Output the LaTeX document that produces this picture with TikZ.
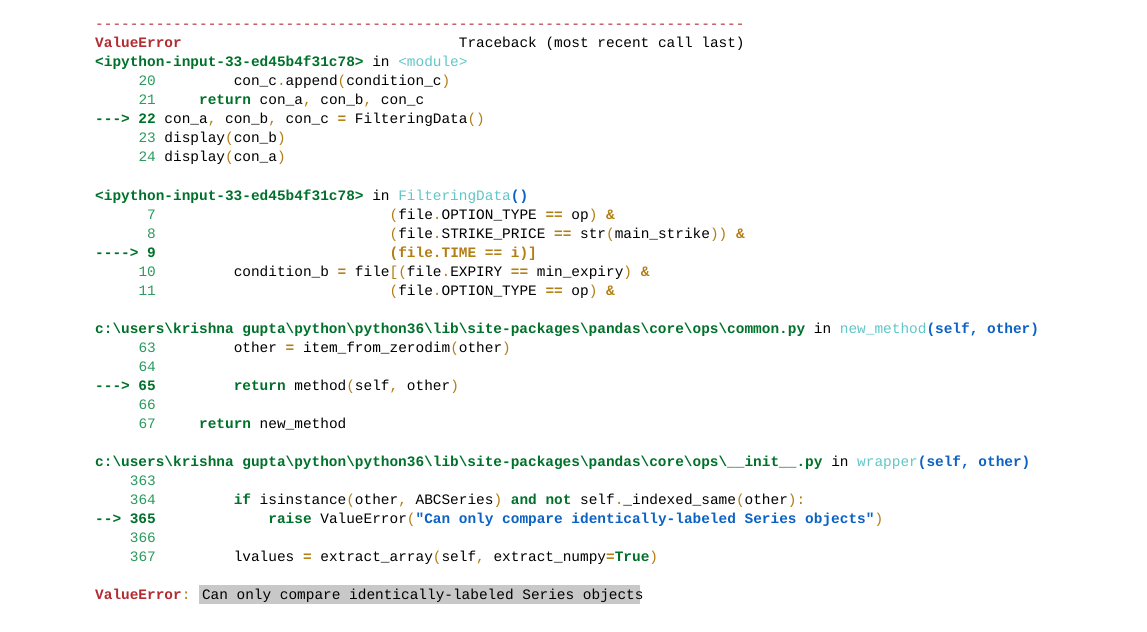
\documentclass[tikz,border=0pt]{standalone}
\usepackage{fontspec}
\newfontfamily\cf{Liberation Mono}
\definecolor{rdc}{HTML}{B22B31}
\definecolor{kgc}{HTML}{00712A}
\definecolor{nmc}{HTML}{2A9A5E}
\definecolor{cyc}{HTML}{60C6C8}
\definecolor{bbc}{HTML}{0B62C4}
\definecolor{occ}{HTML}{B27D12}
\definecolor{hlc}{HTML}{C8C8C8}
\newcommand\oc[1]{\textcolor{occ}{#1}}
\newcommand\ob[1]{\textcolor{occ}{\bfseries #1}}
\newcommand\kg[1]{\textcolor{kgc}{\bfseries #1}}
\newcommand\nm[1]{\textcolor{nmc}{#1}}
\newcommand\cy[1]{\textcolor{cyc}{#1}}
\newcommand\bb[1]{\textcolor{bbc}{\bfseries #1}}
\newcommand\rd[1]{\textcolor{rdc}{\bfseries #1}}
\newcommand\bs{\textbackslash}
\tikzset{ln/.style={anchor=base west,inner sep=0pt,font=\cf\fontsize{14.43pt}{19pt}\selectfont}}
\newcommand\Ln[4]{\node[ln] (#1) at ({95+8.66*#3},{-(29+19*#2)}) {#4};}
\begin{document}
\begin{tikzpicture}[x=1pt,y=1pt]
\useasboundingbox (0,0) rectangle (1147,-631);
\fill[hlc] (199,-585) rectangle (640,-604);
\Ln{dash}{0}{0}{\textcolor{rdc}{---------------------------------------------------------------------------}}
\Ln{ve}{1}{0}{\rd{ValueError}}
\Ln{tb}{1}{42}{Traceback (most recent call last)}
\Ln{f1}{2}{0}{\kg{<ipython-input-33-ed45b4f31c78>} in \cy{<module>}}
\Ln{n20}{3}{5}{\nm{20}}
\Ln{c20}{3}{16}{con\_c\oc{.}append\oc{(}condition\_c\oc{)}}
\Ln{n21}{4}{5}{\nm{21}}
\Ln{c21}{4}{12}{\kg{return} con\_a\oc{,} con\_b\oc{,} con\_c}
\Ln{n22}{5}{0}{\kg{---> 22}}
\Ln{c22}{5}{8}{con\_a\oc{,} con\_b\oc{,} con\_c \ob{=} FilteringData\oc{()}}
\Ln{n23}{6}{5}{\nm{23}}
\Ln{c23}{6}{8}{display\oc{(}con\_b\oc{)}}
\Ln{n24}{7}{5}{\nm{24}}
\Ln{c24}{7}{8}{display\oc{(}con\_a\oc{)}}
\Ln{f2}{9}{0}{\kg{<ipython-input-33-ed45b4f31c78>} in \cy{FilteringData}\bb{()}}
\Ln{n7}{10}{6}{\nm{7}}
\Ln{c7}{10}{34}{\oc{(}file\oc{.}OPTION\_TYPE \ob{==} op\oc{)} \ob{\&}}
\Ln{n8}{11}{6}{\nm{8}}
\Ln{c8}{11}{34}{\oc{(}file\oc{.}STRIKE\_PRICE \ob{==} str\oc{(}main\_strike\oc{))} \ob{\&}}
\Ln{n9}{12}{0}{\kg{----> 9}}
\Ln{c9}{12}{34}{\ob{(file.TIME == i)]}}
\Ln{n10}{13}{5}{\nm{10}}
\Ln{c10}{13}{16}{condition\_b \ob{=} file\oc{[(}file\oc{.}EXPIRY \ob{==} min\_expiry\oc{)} \ob{\&}}
\Ln{n11}{14}{5}{\nm{11}}
\Ln{c11}{14}{34}{\oc{(}file\oc{.}OPTION\_TYPE \ob{==} op\oc{)} \ob{\&}}
\Ln{f3}{16}{0}{\kg{c:\bs users\bs krishna gupta\bs python\bs python36\bs lib\bs site-packages\bs pandas\bs core\bs ops\bs common.py} in \cy{new\_method}\bb{(self, other)}}
\Ln{n63}{17}{5}{\nm{63}}
\Ln{c63}{17}{16}{other \ob{=} item\_from\_zerodim\oc{(}other\oc{)}}
\Ln{n64}{18}{5}{\nm{64}}
\Ln{n65}{19}{0}{\kg{---> 65}}
\Ln{c65}{19}{16}{\kg{return} method\oc{(}self\oc{,} other\oc{)}}
\Ln{n66}{20}{5}{\nm{66}}
\Ln{n67}{21}{5}{\nm{67}}
\Ln{c67}{21}{12}{\kg{return} new\_method}
\Ln{f4}{23}{0}{\kg{c:\bs users\bs krishna gupta\bs python\bs python36\bs lib\bs site-packages\bs pandas\bs core\bs ops\bs \_\_init\_\_.py} in \cy{wrapper}\bb{(self, other)}}
\Ln{n363}{24}{4}{\nm{363}}
\Ln{n364}{25}{4}{\nm{364}}
\Ln{c364}{25}{16}{\kg{if} isinstance\oc{(}other\oc{,} ABCSeries\oc{)} \kg{and} \kg{not} self\oc{.}\_indexed\_same\oc{(}other\oc{):}}
\Ln{n365}{26}{0}{\kg{--> 365}}
\Ln{c365}{26}{20}{\kg{raise} ValueError\oc{(}\bb{"Can only compare identically-labeled Series objects"}\oc{)}}
\Ln{n366}{27}{4}{\nm{366}}
\Ln{n367}{28}{4}{\nm{367}}
\Ln{c367}{28}{16}{lvalues \ob{=} extract\_array\oc{(}self\oc{,} extract\_numpy\ob{=}\kg{True}\oc{)}}
\Ln{last}{30}{0}{\rd{ValueError}\oc{:} Can only compare identically-labeled Series objects}
\end{tikzpicture}
\end{document}
